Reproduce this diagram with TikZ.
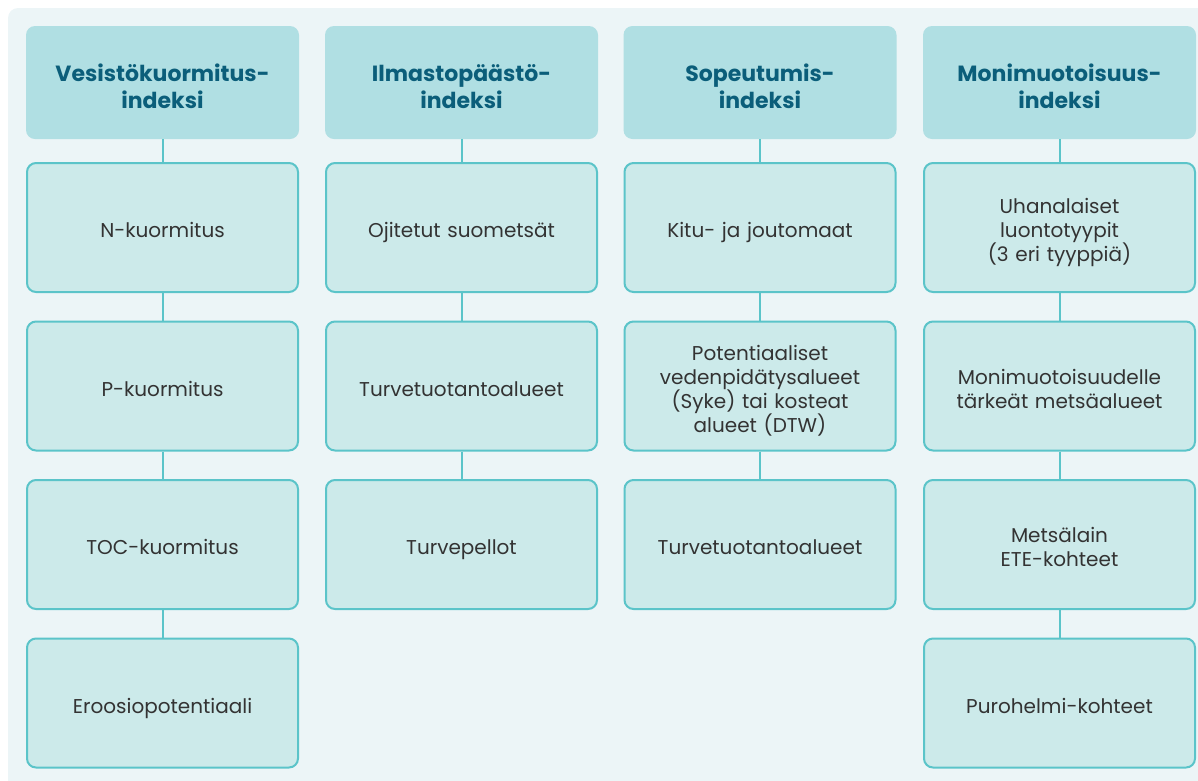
\documentclass[tikz,border=0pt]{standalone}
\usepackage{fontspec}
\setmainfont{Poppins}
\usetikzlibrary{shapes.geometric, arrows}
\definecolor{panelBg}{HTML}{ECF5F7}
\definecolor{headFill}{HTML}{B0DFE3}
\definecolor{boxFill}{HTML}{CCEAEA}
\definecolor{boxLine}{HTML}{5BC4C9}
\definecolor{headText}{HTML}{0B5E7A}
\definecolor{bodyText}{HTML}{333333}
\tikzstyle{headNode} = [rectangle, rounded corners=9pt, minimum width=273pt, minimum height=113pt, text width=250pt, align=center, fill=headFill, text=headText, font=\fontsize{22}{27}\selectfont\bfseries, execute at begin node={\rule{0pt}{28pt}}, execute at end node={\rule[-4pt]{0pt}{4pt}}]
\tikzstyle{recNode} = [rectangle, rounded corners=9pt, minimum width=271pt, minimum height=129pt, text width=250pt, align=center, fill=boxFill, draw=boxLine, line width=2pt, text=bodyText, font=\fontsize{20}{24}\selectfont, execute at begin node={\rule{0pt}{26pt}}, execute at end node={\rule[-6pt]{0pt}{6pt}}]
\tikzstyle{link} = [draw=boxLine, line width=2pt]

\begin{document}
\begin{tikzpicture}[x=1pt, y=1pt, node distance=158.5pt]
        \useasboundingbox (0,0) rectangle (1198,-780);
        \begin{scope}
            \clip (0,0) rectangle (1198,-780);
            \fill [panelBg, rounded corners=10pt] (8,-8) rectangle (1220,-800);
        \end{scope}

        % index headers
        \node (hVes) [headNode] at (162.5,-82.5) {Vesistökuormitus-\\indeksi};
        \node (hIlm) [headNode] at (461.5,-82.5) {Ilmastopäästö-\\indeksi};
        \node (hSop) [headNode] at (760,-82.5) {Sopeutumis-\\indeksi};
        \node (hMon) [headNode] at (1059.5,-82.5) {Monimuotoisuus-\\indeksi};

        % Vesistokuormitus
        \node (nKuor) [recNode, below of=hVes, yshift=13.5pt] {N-kuormitus};
        \node (pKuor) [recNode, below of=nKuor] {P-kuormitus};
        \node (tocKuor) [recNode, below of=pKuor] {TOC-kuormitus};
        \node (eroos) [recNode, below of=tocKuor] {Eroosiopotentiaali};

        % Ilmastopaasto
        \node (ojit) [recNode, below of=hIlm, yshift=13.5pt] {Ojitetut suometsät};
        \node (turvIlm) [recNode, below of=ojit] {Turvetuotantoalueet};
        \node (turvPel) [recNode, below of=turvIlm] {Turvepellot};

        % Sopeutumis
        \node (kitu) [recNode, below of=hSop, yshift=13.5pt] {Kitu- ja joutomaat};
        \node (vedenp) [recNode, below of=kitu] {Potentiaaliset\\vedenpidätysalueet\\(Syke) tai kosteat\\alueet (DTW)};
        \node (turvSop) [recNode, below of=vedenp] {Turvetuotantoalueet};

        % Monimuotoisuus
        \node (uhan) [recNode, below of=hMon, yshift=13.5pt] {Uhanalaiset\\luontotyypit\\(3 eri tyyppiä)};
        \node (monTark) [recNode, below of=uhan] {Monimuotoisuudelle\\tärkeät metsäalueet};
        \node (metsal) [recNode, below of=monTark] {Metsälain\\ETE-kohteet};
        \node (puroh) [recNode, below of=metsal] {Purohelmi-kohteet};

        \draw [link] (hVes) -- (nKuor);
        \draw [link] (nKuor) -- (pKuor);
        \draw [link] (pKuor) -- (tocKuor);
        \draw [link] (tocKuor) -- (eroos);
        \draw [link] (hIlm) -- (ojit);
        \draw [link] (ojit) -- (turvIlm);
        \draw [link] (turvIlm) -- (turvPel);
        \draw [link] (hSop) -- (kitu);
        \draw [link] (kitu) -- (vedenp);
        \draw [link] (vedenp) -- (turvSop);
        \draw [link] (hMon) -- (uhan);
        \draw [link] (uhan) -- (monTark);
        \draw [link] (monTark) -- (metsal);
        \draw [link] (metsal) -- (puroh);
    \end{tikzpicture}
\end{document}
